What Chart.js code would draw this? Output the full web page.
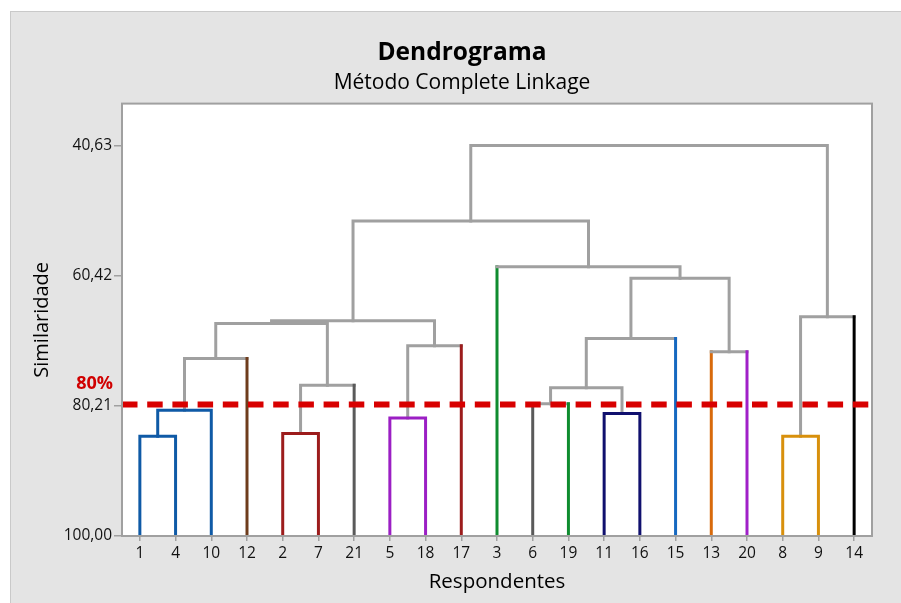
<!DOCTYPE html>
<html lang="pt">
<head>
<meta charset="utf-8">
<title>Dendrograma</title>
<script src="https://cdn.jsdelivr.net/npm/chart.js@4/dist/chart.umd.min.js"></script>
<style>
  html, body { margin: 0; padding: 0; background: #ffffff; overflow: hidden; width: 901px; height: 603px; }
  #frame { position: absolute; left: 10px; top: 11px; width: 920px; height: 620px;
           background: #e4e4e4; border: 1px solid #c9c9c9; }
  #chart { position: absolute; left: 0; top: 0; }
</style>
</head>
<body>
<div id="frame"><canvas id="chart" width="902" height="591"></canvas></div>
<script>
// Leaf order along the x axis (respondents)
const leaves = ['1','4','10','12','2','7','21','5','18','17','3','6','19','11','16','15','13','20','8','9','14'];

// Agglomeration steps: node A joins node B at the given similarity level (%).
// Leaves are referenced by label, earlier steps as 'm<index>'.
const mergeA = ['1',  'm0', 'm1', '2',  'm3', '5',  'm5', 'm2', 'm7', '6',  '11', 'm9', 'm11','13', 'm12','3',  'm8', '8',  'm17','m16'];
const mergeB = ['4',  '10', '12', '7',  '21', '18', '17', 'm4', 'm6', '19', '16', 'm10','15', '20', 'm13','m14','m15','9',  '14', 'm18'];
const mergeLevel = [84.82, 80.86, 72.99, 84.41, 77.06, 82.04, 71.08, 67.67, 67.27, 79.90,
                    81.37, 77.47, 69.95, 71.99, 60.82, 59.05, 52.09, 84.82, 66.66, 40.63];

// Similarity axis ticks and the cut level
const yTicks = [40.63, 60.42, 80.21, 100.00];
const cutLevel = 80;

// Line colours of each leaf / final cluster
const leafColors = ['#0f5aa6','#0f5aa6','#0f5aa6','#6e3c1c','#9c1c1c','#9c1c1c','#5a5a5a','#9b1fc4','#9b1fc4','#9c1c1c',
                    '#0f8c2f','#5a5a5a','#0f8c2f','#10106e','#10106e','#1668c0','#d86a0c','#a020c8','#d8900c','#d8900c','#000000'];
const linkGray = '#a0a0a0';

// ---- build node positions and levels ----
const nodeX = {}, nodeLevel = {}, nodeColor = {}, isLeaf = {};
leaves.forEach((l, i) => { nodeX[l] = i; nodeLevel[l] = 100; nodeColor[l] = leafColors[i]; isLeaf[l] = true; });

const linkDatasets = [];
mergeLevel.forEach((h, i) => {
  const a = mergeA[i], b = mergeB[i], id = 'm' + i;
  nodeX[id] = (nodeX[a] + nodeX[b]) / 2;
  nodeLevel[id] = h;
  nodeColor[id] = nodeColor[a];
  const inCluster = h > cutLevel;
  const cH = inCluster ? nodeColor[a] : linkGray;
  const cA = inCluster ? nodeColor[a] : (isLeaf[a] ? nodeColor[a] : linkGray);
  const cB = inCluster ? nodeColor[a] : (isLeaf[b] ? nodeColor[b] : linkGray);
  const segColors = [cA, cH, cB];
  linkDatasets.push({
    data: [
      { x: nodeX[a], y: nodeLevel[a] },
      { x: nodeX[a], y: h },
      { x: nodeX[b], y: h },
      { x: nodeX[b], y: nodeLevel[b] }
    ],
    borderColor: cH,
    borderWidth: 3,
    borderCapStyle: 'square',
    borderJoinStyle: 'miter',
    pointRadius: 0,
    tension: 0,
    segment: { borderColor: ctx => segColors[ctx.p0DataIndex] }
  });
});

// Cut line at the similarity level
const cutDataset = {
  data: [{ x: -0.5, y: cutLevel }, { x: leaves.length - 0.5, y: cutLevel }],
  borderColor: '#d80000',
  borderWidth: 6,
  borderDash: [15.5, 9.7],
  pointRadius: 0
};

const plotFrame = {
  id: 'plotFrame',
  beforeDraw(chart) {
    const { ctx, chartArea: a } = chart;
    ctx.save();
    ctx.fillStyle = '#ffffff';
    ctx.fillRect(a.left, a.top, a.right - a.left, a.bottom - a.top);
    ctx.restore();
  },
  afterDatasetsDraw(chart) {
    const { ctx, chartArea: a } = chart;
    ctx.save();
    ctx.strokeStyle = '#a0a0a0';
    ctx.lineWidth = 2;
    ctx.strokeRect(a.left, a.top, a.right - a.left, a.bottom - a.top);
    // cut level label
    const y = chart.scales.y.getPixelForValue(cutLevel);
    ctx.fillStyle = '#d00000';
    ctx.font = "bold 18px 'Open Sans', sans-serif";
    ctx.textAlign = 'right';
    ctx.textBaseline = 'alphabetic';
    ctx.fillText(cutLevel + '%', a.left - 9, y - 15.5);
    ctx.restore();
  }
};

Chart.defaults.font.family = "'Open Sans', sans-serif";
Chart.defaults.color = '#111111';

new Chart(document.getElementById('chart'), {
  type: 'line',
  data: { datasets: [cutDataset, ...linkDatasets] },
  plugins: [plotFrame],
  options: {
    responsive: false,
    animation: false,
    events: [],
    layout: { padding: { left: 0, right: 0, top: 0, bottom: 0 } },
    plugins: {
      legend: { display: false },
      tooltip: { enabled: false },
      title: {
        display: true,
        text: 'Dendrograma',
        color: '#000000',
        font: { size: 24.5, weight: 'bold' },
        padding: { top: 26, bottom: 0 }
      },
      subtitle: {
        display: true,
        text: 'Método Complete Linkage',
        color: '#000000',
        font: { size: 21 },
        padding: { top: 3, bottom: 8 }
      }
    },
    scales: {
      x: {
        type: 'linear',
        min: -0.5,
        max: leaves.length - 0.5,
        afterBuildTicks: s => { s.ticks = leaves.map((_, i) => ({ value: i })); },
        afterFit: s => { s.height = 67; },
        ticks: {
          autoSkip: false, maxRotation: 0, padding: 3,
          font: { size: 15.5 }, color: '#111111',
          callback: v => leaves[v]
        },
        grid: { drawOnChartArea: false, tickLength: 5, color: '#a0a0a0', lineWidth: 1.5 },
        border: { display: false },
        title: { display: true, text: 'Respondentes', color: '#000000', font: { size: 20.5 }, padding: { top: 0, bottom: 9 } }
      },
      y: {
        type: 'linear',
        reverse: true,
        min: 34.24,
        max: 100,
        afterBuildTicks: s => { s.ticks = yTicks.map(v => ({ value: v })); },
        afterFit: s => { s.width = 111; },
        ticks: {
          padding: 2, font: { size: 15.5 }, color: '#111111',
          callback: v => v.toFixed(2).replace('.', ',')
        },
        grid: { drawOnChartArea: false, tickLength: 8, color: '#a0a0a0', lineWidth: 1.5 },
        border: { display: false },
        title: { display: true, text: 'Similaridade', color: '#000000', font: { size: 20 }, padding: 19 }
      },
      // empty right-hand margin so the titles stay centred on the whole frame
      yMargin: {
        type: 'linear',
        position: 'right',
        min: 0,
        max: 1,
        afterFit: s => { s.width = 41; },
        ticks: { display: false },
        grid: { display: false },
        border: { display: false }
      }
    }
  }
});
</script>
</body>
</html>
